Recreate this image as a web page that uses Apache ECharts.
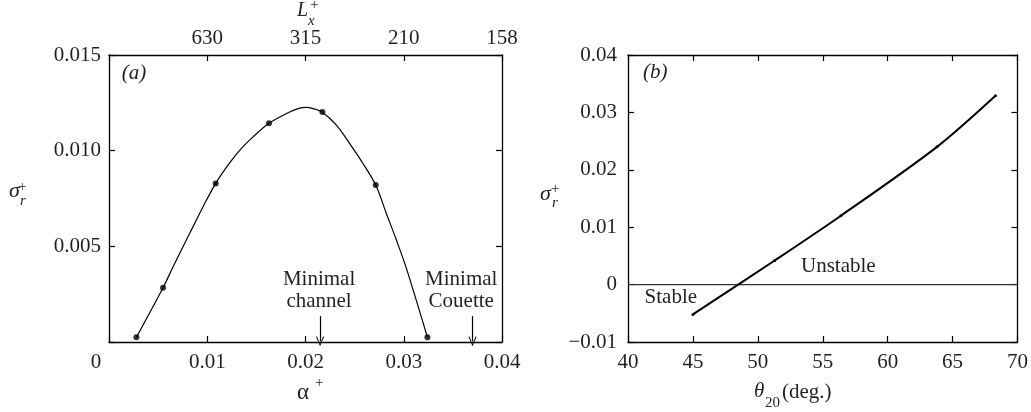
<!DOCTYPE html>
<html><head><meta charset="utf-8">
<script src="https://cdn.jsdelivr.net/npm/echarts@6.0.0/dist/echarts.min.js"></script>
<style>html,body{margin:0;padding:0;background:#fff}#c{width:1031px;height:412px}</style>
</head><body><div id="c"></div>
<script>
// ---- Panel (a) data ----
const curveAlpha = [0.00279, 0.00550, 0.00645, 0.00753, 0.00872, 0.00974, 0.01086, 0.01211, 0.01330, 0.01466, 0.01628, 0.01839, 0.01941, 0.02009, 0.02076, 0.02172, 0.02315, 0.02450, 0.02585, 0.02715, 0.02823, 0.02925, 0.03027, 0.03241];
const curveSigma = [0.00025, 0.00284, 0.00385, 0.00498, 0.00620, 0.00724, 0.00829, 0.00924, 0.01002, 0.01072, 0.01143, 0.01202, 0.01222, 0.01226, 0.01220, 0.01201, 0.01133, 0.01037, 0.00933, 0.00820, 0.00672, 0.00533, 0.00385, 0.00025];
const dotAlpha = [0.00279, 0.00550, 0.01086, 0.01628, 0.02172, 0.02715, 0.03241];
const dotSigma = [0.00025, 0.00284, 0.00829, 0.01143, 0.01202, 0.00820, 0.00025];
const topTickAlpha = [0.01, 0.02, 0.03, 0.04];
const topTickLabels = ['630', '315', '210', '158'];
const arrowAlpha = [0.02148, 0.0370];
const arrowTexts = ['Minimal\nchannel', 'Minimal\nCouette'];
const arrowTextAlpha = [0.02138, 0.03585];
// ---- Panel (b) data ----
const thetaVals = [45, 51.3, 56.4, 63.8, 68.3];
const sigmaVals = [-0.0052, 0.0042, 0.0120, 0.0240, 0.0329];
const zeroTheta = [40, 70];
const zeroSigma = [0, 0];

const FONT = '"Liberation Serif", "DejaVu Serif", serif';
const INK = '#231f20';
const FS = 21;
const zip = (a, b) => a.map((v, i) => [v, b[i]]);

const lbl = (extra) => Object.assign({fontFamily: FONT, fontSize: FS, color: INK}, extra);
const axLine = {show: true, onZero: false, lineStyle: {color: '#000', width: 1.3}};
const tick = {show: true, inside: true, length: 6, lineStyle: {color: '#000', width: 1.2}};
const chevron = 'path://M0,10 L5,0 L10,10 L9,10.8 L5,2.5 L1,10.8 Z';

const chart = echarts.init(document.getElementById('c'), null, {renderer: 'canvas'});

function txt(text, x, y, size, italic, align) {
  return {type: 'text', style: {text, x, y, font: (italic ? 'italic ' : '') + size + 'px ' + FONT,
    fill: INK, align: align || 'left', verticalAlign: 'middle'}};
}

chart.setOption({
  animation: false,
  backgroundColor: '#fff',
  grid: [
    {left: 109, right: 529, top: 55, bottom: 70},
    {left: 628, right: 7, top: 55, bottom: 70}
  ],
  xAxis: [
    {gridIndex: 0, type: 'value', position: 'bottom', min: 0, max: 0.04, interval: 0.01,
     axisLine: axLine, axisTick: tick, splitLine: {show: false},
     axisLabel: lbl({margin: 10, showMinLabel: true, showMaxLabel: true,
       formatter: v => v === 0 ? '{z|0}' : v.toFixed(2),
       rich: {z: {fontFamily: FONT, fontSize: FS, color: INK, padding: [0, 26, 0, 0]}}})},
    {gridIndex: 0, type: 'value', position: 'top', min: 0, max: 0.04, interval: 0.01,
     axisLine: axLine, axisTick: tick, splitLine: {show: false},
     axisLabel: lbl({margin: 6, showMinLabel: true, showMaxLabel: true,
       formatter: v => { const i = topTickAlpha.findIndex(a => Math.abs(a - v) < 1e-6); return i >= 0 ? topTickLabels[i] : ''; }})},
    {gridIndex: 1, type: 'value', position: 'bottom', min: 40, max: 70, interval: 5,
     axisLine: axLine, axisTick: tick, splitLine: {show: false},
     axisLabel: lbl({margin: 10, showMinLabel: true, showMaxLabel: true})},
    {gridIndex: 1, type: 'value', position: 'top', min: 40, max: 70, interval: 5,
     axisLine: axLine, axisTick: tick, splitLine: {show: false}, axisLabel: {show: false}}
  ],
  yAxis: [
    {gridIndex: 0, type: 'value', position: 'left', min: 0, max: 0.015, interval: 0.005,
     axisLine: axLine, axisTick: tick, splitLine: {show: false},
     axisLabel: lbl({margin: 8, formatter: v => v === 0 ? '' : v.toFixed(3)})},
    {gridIndex: 0, type: 'value', position: 'right', min: 0, max: 0.015, interval: 0.005,
     axisLine: axLine, axisTick: tick, splitLine: {show: false}, axisLabel: {show: false}},
    {gridIndex: 1, type: 'value', position: 'left', min: -0.01, max: 0.04, interval: 0.01,
     axisLine: axLine, axisTick: tick, splitLine: {show: false},
     axisLabel: lbl({margin: 11, formatter: v => Math.abs(v) < 1e-9 ? '0' : (v < 0 ? '\u2212' + (-v).toFixed(2) : v.toFixed(2))})},
    {gridIndex: 1, type: 'value', position: 'right', min: -0.01, max: 0.04, interval: 0.01,
     axisLine: axLine, axisTick: tick, splitLine: {show: false}, axisLabel: {show: false}}
  ],
  series: [
    {type: 'line', xAxisIndex: 0, yAxisIndex: 0, data: zip(curveAlpha, curveSigma), smooth: 0.3,
     showSymbol: false, lineStyle: {color: '#000', width: 1.2},
     markLine: {silent: true, symbol: ['none', chevron], symbolSize: [8, 10],
       lineStyle: {color: '#000', width: 1.2, type: 'solid'}, label: {show: false},
       data: arrowAlpha.map(a => [{coord: [a, 0.00135]}, {coord: [a, 0.00004]}])},
     markPoint: {silent: true, symbol: 'circle', symbolSize: 0,
       label: {show: true, position: 'inside', fontFamily: FONT, fontSize: FS, color: INK, lineHeight: 22, align: 'center'},
       data: arrowTexts.map((t, i) => ({coord: [arrowTextAlpha[i], 0.00268], value: t, label: {formatter: t}}))
         .concat([{coord: [0.00255, 0.01405], label: {formatter: '(a)', fontStyle: 'italic'}}])}},
    {type: 'scatter', xAxisIndex: 0, yAxisIndex: 0, data: zip(dotAlpha, dotSigma), symbolSize: 6,
     itemStyle: {color: '#000'}},
    {type: 'line', xAxisIndex: 2, yAxisIndex: 2, data: zip(zeroTheta, zeroSigma), showSymbol: false,
     lineStyle: {color: '#333', width: 1.2}},
    {type: 'line', xAxisIndex: 2, yAxisIndex: 2, data: zip(thetaVals, sigmaVals), smooth: 0.3,
     symbol: 'circle', symbolSize: 3, itemStyle: {color: '#000'}, lineStyle: {color: '#000', width: 2},
     markPoint: {silent: true, symbol: 'circle', symbolSize: 0,
       label: {show: true, position: 'inside', fontFamily: FONT, fontSize: FS, color: INK},
       data: [
         {coord: [56.2, 0.0032], label: {formatter: 'Unstable'}},
         {coord: [43.3, -0.0023], label: {formatter: 'Stable'}},
         {coord: [42.1, 0.037], label: {formatter: '(b)', fontStyle: 'italic'}}
       ]}}
  ],
  graphic: [
    txt('\u03c3', 9, 191, 22, true),
    txt('+', 18, 187, 15, false),
    txt('r', 20, 201, 15, true),
    txt('\u03b1', 297, 393, 23, false),
    txt('+', 315, 383, 15, false),
    txt('L', 297, 11, 20, true),
    txt('x', 308, 21, 15, true),
    txt('+', 310, 5, 15, false),
    txt('\u03c3', 540, 194, 22, true),
    txt('+', 551, 189, 15, false),
    txt('r', 552, 203, 15, true),
    txt('\u03b8', 754, 391, 21, true),
    txt('20', 765, 403, 15, false),
    txt('(deg.)', 782, 392, 21, false)
  ]
});
</script></body></html>
